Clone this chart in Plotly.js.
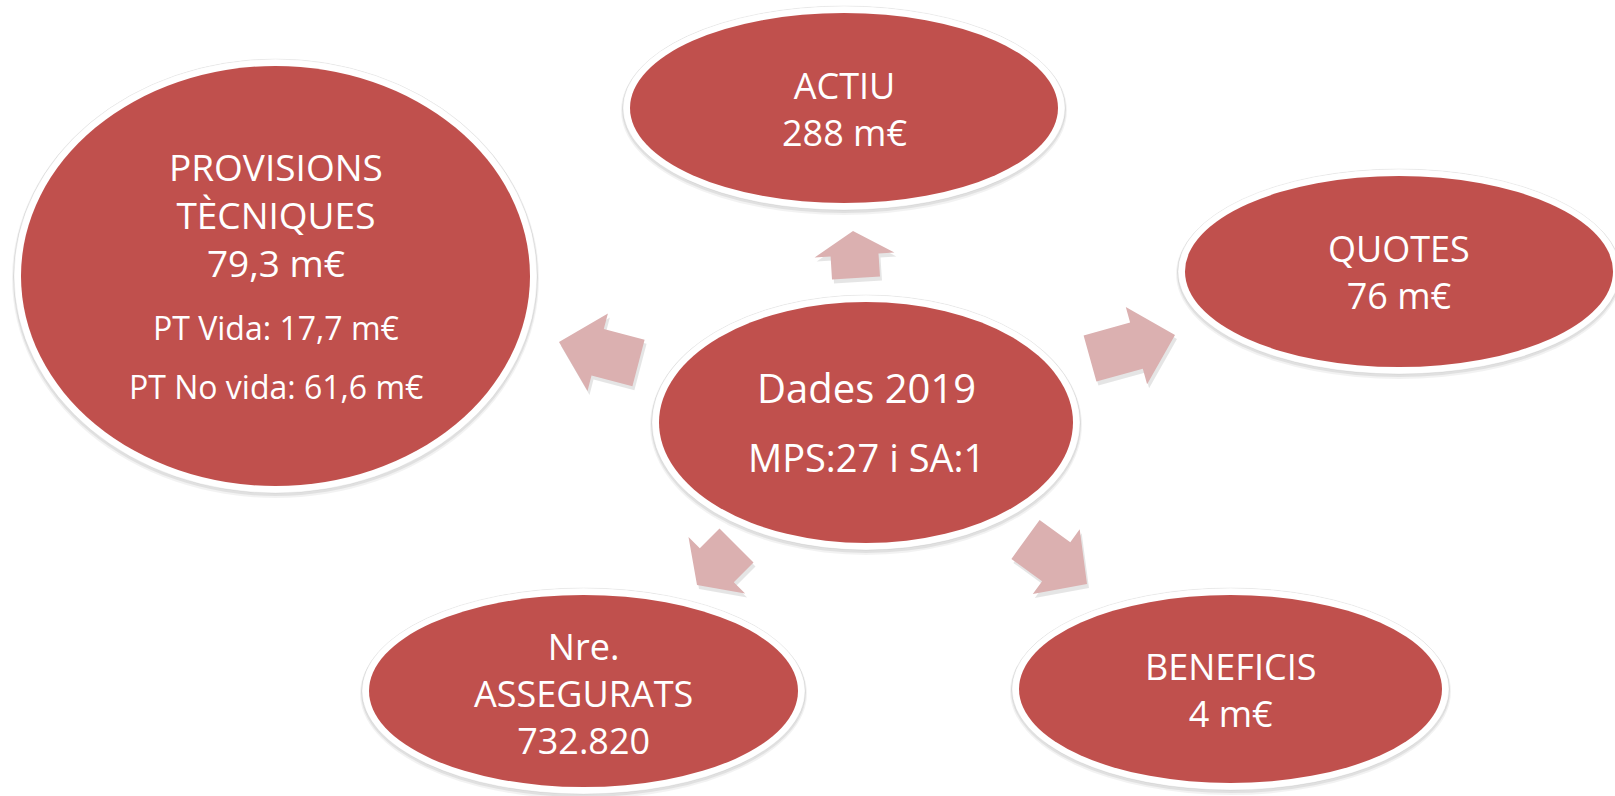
<!DOCTYPE html>
<html><head><meta charset="utf-8">
<script src="https://cdn.plot.ly/plotly-3.0.1.min.js"></script>
<style>html,body{margin:0;padding:0;background:#fff;overflow:hidden}</style>
</head><body><div id="chart" style="width:1615px;height:796px"></div>
<script>
// ---- content ----
const nodeTitles = ['Dades 2019', 'ACTIU', 'QUOTES', 'BENEFICIS', 'Nre.<br>ASSEGURATS', 'PROVISIONS<br>TÈCNIQUES'];
const nodeValues = ['MPS:27 i SA:1', '288 m€', '76 m€', '4 m€', '732.820', '79,3 m€'];
const detailLabels = ['PT Vida: 17,7 m€', 'PT No vida: 61,6 m€'];

// ---- layout geometry (pixel space) ----
const ellipseBoxes = [
  {x0: 659, x1: 1073, y0: 302, y1: 543},
  {x0: 630, x1: 1058, y0: 13, y1: 203},
  {x0: 1185, x1: 1613, y0: 176, y1: 367},
  {x0: 1019, x1: 1442, y0: 595, y1: 783},
  {x0: 369, x1: 798, y0: 595, y1: 787},
  {x0: 21, x1: 530, y0: 66, y1: 486}
];
const textY = [387, 108.5, 271.5, 690, 693, 214];
const titleSizes = [40, 36, 36, 36, 36, 37];
const centerValueY = 457;
const detailY = [327, 386];
const arrowGeo = [
  {tip: [559, 342], back: [638.5, 363], head: 40},
  {tip: [853, 231], back: [856, 278], head: 24},
  {tip: [1175, 335], back: [1090, 358.5], head: 40},
  {tip: [697, 585], back: [736.5, 545.5], head: 28},
  {tip: [1087, 584], back: [1025.5, 539.5], head: 38}
];
const shaftW = 48, headW = 80;
const RED = '#C0504D', ARROW = '#DBB0B0';
const FONT = '"Open Sans", "Noto Sans", sans-serif';

function arrowPath(g, off) {
  const ox = off ? off[0] : 0, oy = off ? off[1] : 0;
  const tx = g.tip[0] + ox, ty = g.tip[1] + oy, bx = g.back[0] + ox, by = g.back[1] + oy;
  const dx = tx - bx, dy = ty - by, L = Math.hypot(dx, dy);
  const ux = dx / L, uy = dy / L, nx = -uy, ny = ux;
  const kx = tx - ux * g.head, ky = ty - uy * g.head;
  const pts = [
    [bx + nx * shaftW / 2, by + ny * shaftW / 2],
    [kx + nx * shaftW / 2, ky + ny * shaftW / 2],
    [kx + nx * headW / 2, ky + ny * headW / 2],
    [tx, ty],
    [kx - nx * headW / 2, ky - ny * headW / 2],
    [kx - nx * shaftW / 2, ky - ny * shaftW / 2],
    [bx - nx * shaftW / 2, by - ny * shaftW / 2]
  ];
  return 'M ' + pts.map(p => p[0].toFixed(1) + ' ' + p[1].toFixed(1)).join(' L ') + ' Z';
}

const shapes = [];
arrowGeo.forEach(g => {
  shapes.push({type: 'path', xref: 'x', yref: 'y', path: arrowPath(g, [2, 4]),
    fillcolor: 'rgba(0,0,0,0.10)', line: {width: 0}, layer: 'above'});
  shapes.push({type: 'path', xref: 'x', yref: 'y', path: arrowPath(g),
    fillcolor: ARROW, line: {width: 0}, layer: 'above'});
});
ellipseBoxes.forEach(b => {
  shapes.push({type: 'circle', xref: 'x', yref: 'y', x0: b.x0 - 9, x1: b.x1 + 9, y0: b.y0 - 7, y1: b.y1 + 12,
    fillcolor: 'rgba(0,0,0,0.05)', line: {width: 0}, layer: 'above'});
  shapes.push({type: 'circle', xref: 'x', yref: 'y', x0: b.x0 - 8, x1: b.x1 + 8, y0: b.y0 - 7, y1: b.y1 + 10,
    fillcolor: 'rgba(0,0,0,0.07)', line: {width: 0}, layer: 'above'});
  shapes.push({type: 'circle', xref: 'x', yref: 'y', x0: b.x0 - 7, x1: b.x1 + 7, y0: b.y0 - 7, y1: b.y1 + 7,
    fillcolor: '#FFFFFF', line: {color: 'rgba(0,0,0,0.06)', width: 1}, layer: 'above'});
  shapes.push({type: 'circle', xref: 'x', yref: 'y', x0: b.x0, x1: b.x1, y0: b.y0, y1: b.y1,
    fillcolor: RED, line: {width: 0}, layer: 'above'});
});

const annotations = [];
nodeTitles.forEach((t, i) => {
  const cx = (ellipseBoxes[i].x0 + ellipseBoxes[i].x1) / 2;
  if (i === 0) {
    annotations.push({x: cx, y: textY[i], xref: 'x', yref: 'y', text: t, showarrow: false,
      xanchor: 'center', yanchor: 'middle', font: {family: FONT, size: titleSizes[i], color: '#FFFFFF'}});
    annotations.push({x: cx, y: centerValueY, xref: 'x', yref: 'y', text: nodeValues[i], showarrow: false,
      xanchor: 'center', yanchor: 'middle', font: {family: FONT, size: 38, color: '#FFFFFF'}});
  } else {
    annotations.push({x: cx, y: textY[i], xref: 'x', yref: 'y', text: t + '<br>' + nodeValues[i], showarrow: false,
      xanchor: 'center', yanchor: 'middle', align: 'center', font: {family: FONT, size: titleSizes[i], color: '#FFFFFF'}});
  }
});
detailLabels.forEach((t, j) => {
  const b = ellipseBoxes[5];
  annotations.push({x: (b.x0 + b.x1) / 2, y: detailY[j], xref: 'x', yref: 'y', text: t, showarrow: false,
    xanchor: 'center', yanchor: 'middle', font: {family: FONT, size: 32, color: '#FFFFFF'}});
});

const layout = {
  width: 1615, height: 796,
  margin: {l: 0, r: 0, t: 0, b: 0},
  paper_bgcolor: '#FFFFFF', plot_bgcolor: '#FFFFFF',
  xaxis: {range: [0, 1615], visible: false, fixedrange: true},
  yaxis: {range: [796, 0], visible: false, fixedrange: true},
  showlegend: false,
  shapes: shapes,
  annotations: annotations
};
Plotly.newPlot('chart', [], layout, {displayModeBar: false, staticPlot: true});
</script></body></html>
